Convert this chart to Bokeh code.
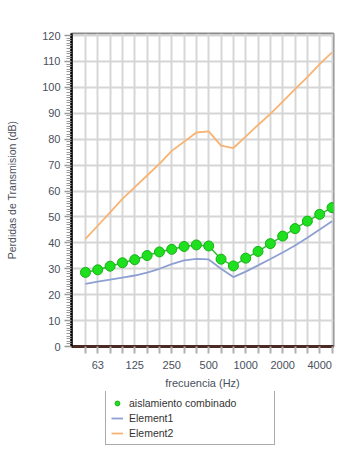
from bokeh.plotting import figure
from bokeh.layouts import column
from bokeh.models import Range1d, FixedTicker, Legend, LegendItem
from bokeh.embed import file_html
from bokeh.resources import INLINE

bands = ["50", "63", "80", "100", "125", "160", "200", "250", "315", "400", "500",
         "630", "800", "1000", "1250", "1600", "2000", "2500", "3150", "4000", "5000"]
combinado = [28.6, 29.6, 31.0, 32.3, 33.5, 35.1, 36.5, 37.5, 38.6, 39.2, 38.8,
             33.7, 31.1, 34.1, 36.7, 39.7, 42.6, 45.5, 48.4, 51.0, 53.6]
element1 = [24.2, 25.0, 25.8, 26.6, 27.4, 28.5, 30.0, 31.8, 33.2, 33.8, 33.6,
            30.0, 26.8, 28.9, 31.3, 33.8, 36.3, 39.0, 42.0, 45.2, 48.3]
element2 = [41.5, 46.6, 51.8, 57.0, 61.5, 66.0, 70.5, 75.5, 79.0, 82.6, 83.0,
            77.5, 76.6, 81.0, 85.5, 89.8, 94.5, 99.3, 104.0, 109.0, 113.5]
labelled_bands = ["63", "125", "250", "500", "1000", "2000", "4000"]
y_ticks = [0, 10, 20, 30, 40, 50, 60, 70, 80, 90, 100, 110, 120]
series_names = ["aislamiento combinado", "Element1", "Element2"]

idx = list(range(len(bands)))
overrides = {i: (b if b in labelled_bands else "") for i, b in enumerate(bands)}

FONT = "Liberation Sans"
TXT = "#4a4f5c"
C_COMB_FILL, C_COMB_LINE = "#1ee01e", "#18b018"
C_E1, C_E2 = "#8ea0d2", "#f8b373"

p = figure(width=348, height=391, output_backend="svg", toolbar_location=None,
           x_range=Range1d(-1.13, 20.12), y_range=Range1d(0, 120.8),
           min_border_left=71, min_border_top=33, min_border_right=15, min_border_bottom=45,
           background_fill_color="white", border_fill_color="white",
           outline_line_color="#8a8a8a", outline_line_width=2)

# grid
p.xgrid.ticker = FixedTicker(ticks=idx)
p.xgrid.grid_line_color = "#d6d6d6"
p.xgrid.grid_line_width = 2
p.ygrid.grid_line_color = "#d6d6d6"
p.ygrid.grid_line_width = 2

# x axis
xa = p.xaxis[0]
xa.ticker = FixedTicker(ticks=idx)
xa.major_label_overrides = overrides
xa.axis_line_color = "#4b2a24"
xa.axis_line_width = 3
xa.major_tick_line_color = "#b0b0b0"
xa.major_tick_line_width = 2
xa.major_tick_out = 7
xa.major_tick_in = 0
xa.minor_tick_line_color = None
xa.major_label_text_font = FONT
xa.major_label_text_font_size = "11px"
xa.major_label_text_color = TXT
xa.major_label_standoff = 7
xa.axis_label = "frecuencia (Hz)"
xa.axis_label_text_font = FONT
xa.axis_label_text_font_size = "11px"
xa.axis_label_text_font_style = "normal"
xa.axis_label_text_color = TXT
xa.axis_label_standoff = 5

# y axis
ya = p.yaxis[0]
ya.ticker = FixedTicker(ticks=y_ticks, minor_ticks=[v for v in range(0, 121) if v % 10 != 0])
ya.axis_line_color = "black"
ya.axis_line_width = 2.5
ya.major_tick_line_color = "#9a9a9a"
ya.major_tick_line_width = 1.5
ya.major_tick_out = 7
ya.major_tick_in = 0
ya.minor_tick_line_color = "#9a9a9a"
ya.minor_tick_out = 5
ya.minor_tick_in = 0
ya.major_label_text_font = FONT
ya.major_label_text_font_size = "11px"
ya.major_label_text_color = TXT
ya.major_label_standoff = 4
ya.axis_label = "Perdidas de Transmision (dB)"
ya.axis_label_text_font = FONT
ya.axis_label_text_font_size = "10.5px"
ya.axis_label_text_font_style = "normal"
ya.axis_label_text_color = TXT
ya.axis_label_standoff = 21

# data
p.line(idx, element2, line_color=C_E2, line_width=1.8)
p.line(idx, element1, line_color=C_E1, line_width=1.8)
p.line(idx, combinado, line_color="#2fbf2f", line_width=1.5)
p.scatter(idx, combinado, size=10, fill_color=C_COMB_FILL, line_color=C_COMB_LINE, line_width=1)

# legend panel below the chart (same series, drawn off-view so only the key shows)
lf = figure(width=348, height=59, output_backend="svg", toolbar_location=None,
            x_axis_type=None, y_axis_type=None,
            x_range=Range1d(1000, 1001), y_range=Range1d(1000, 1001),
            min_border=0, outline_line_color=None,
            background_fill_color="white", border_fill_color="white")
lf.xgrid.visible = False
lf.ygrid.visible = False
lc = lf.scatter(idx, combinado, size=10, fill_color=C_COMB_FILL, line_color=C_COMB_LINE, line_width=1)
l1 = lf.line(idx, element1, line_color=C_E1, line_width=1.8)
l2 = lf.line(idx, element2, line_color=C_E2, line_width=1.8)

legend = Legend(items=[LegendItem(label=series_names[0], renderers=[lc]),
                       LegendItem(label=series_names[1], renderers=[l1]),
                       LegendItem(label=series_names[2], renderers=[l2])],
                location=(34, 5), orientation="vertical",
                border_line_color="#555555", border_line_width=1.5,
                label_text_font=FONT, label_text_font_size="10.5px", label_text_color="#333333",
                glyph_width=12, glyph_height=12, label_height=13, label_width=140,
                label_standoff=6, spacing=2, padding=5, margin=0,
                background_fill_color="white")
lf.add_layout(legend, "center")

layout = column(p, lf, spacing=0)
open("out.html", "w").write(file_html(layout, INLINE))
